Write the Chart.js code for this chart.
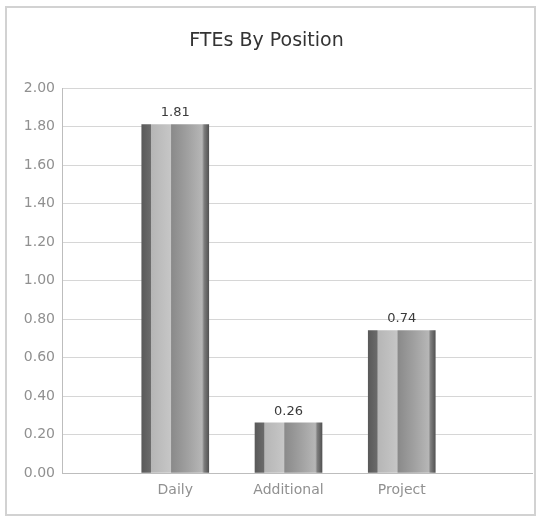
<!DOCTYPE html>
<html>
<head>
<meta charset="utf-8">
<script src="https://cdn.jsdelivr.net/npm/chart.js@4/dist/chart.umd.min.js"></script>
<style>
  html, body { margin: 0; padding: 0; background: #fff; }
  #wrap { width: 541px; height: 516px; }
</style>
</head>
<body>
<div id="wrap"><canvas id="myChart" width="541" height="516"></canvas></div>
<script>
// chart data
const categories = ['Daily', 'Additional', 'Project'];
const values = [1.81, 0.26, 0.74];
const yMin = 0;
const yMax = 2;
const yStep = 0.2;

const barWidth = 67;

// cylinder-like shading for each bar
function barGradient(context) {
    const chart = context.chart;
    if (!chart.chartArea || context.type !== 'data') return '#999';
    const cx = chart.scales.x.getPixelForValue(context.raw.x);
    const g = chart.ctx.createLinearGradient(cx - barWidth / 2, 0, cx + barWidth / 2, 0);
    g.addColorStop(0, '#5a5a5a');
    g.addColorStop(0.13, '#6a6a6a');
    g.addColorStop(0.145, '#b6b6b6');
    g.addColorStop(0.43, '#c6c6c6');
    g.addColorStop(0.445, '#8a8a8a');
    g.addColorStop(0.7, '#a2a2a2');
    g.addColorStop(0.9, '#b6b6b6');
    g.addColorStop(0.93, '#7e7e7e');
    g.addColorStop(1, '#545454');
    return g;
}

// frame around the whole chart
const framePlugin = {
    id: 'frame',
    beforeDraw(chart) {
        const c = chart.ctx;
        c.save();
        c.fillStyle = '#fff';
        c.fillRect(0, 0, chart.width, chart.height);
        c.strokeStyle = '#d2d2d2';
        c.lineWidth = 2;
        c.strokeRect(6, 7, 529, 508);
        c.restore();
    }
};

// value labels above bars
const valueLabels = {
    id: 'valueLabels',
    afterDatasetsDraw(chart) {
        const c = chart.ctx;
        const meta = chart.getDatasetMeta(0);
        c.save();
        c.font = '13px "DejaVu Sans"';
        c.fillStyle = '#3a3a3a';
        c.textAlign = 'center';
        c.textBaseline = 'bottom';
        meta.data.forEach((bar, i) => {
            c.fillText(values[i].toFixed(2), bar.x, bar.y - 5);
        });
        c.restore();
    }
};

const points = values.map((v, i) => ({ x: i + 1, y: v }));

new Chart(document.getElementById('myChart'), {
    type: 'bar',
    data: {
        datasets: [{
            data: points,
            backgroundColor: barGradient,
            borderWidth: 0,
            barThickness: barWidth
        }]
    },
    options: {
        responsive: false,
        animation: false,
        layout: { padding: { left: 0, right: 8, top: 0, bottom: 0 } },
        plugins: {
            legend: { display: false },
            tooltip: { enabled: false },
            title: {
                display: true,
                text: 'FTEs By Position',
                color: '#333',
                font: { family: 'DejaVu Sans', size: 19, weight: 'normal' },
                padding: { top: 30, bottom: 35.2 }
            }
        },
        scales: {
            x: {
                type: 'linear',
                offset: false,
                min: 0,
                max: 4.15,
                grid: { display: false, drawTicks: false, offset: false },
                border: { display: true, color: '#bdbdbd', width: 1 },
                ticks: {
                    stepSize: 1,
                    padding: 9,
                    color: '#909090',
                    font: { family: 'DejaVu Sans', size: 14 },
                    callback: v => categories[v - 1] || ''
                },
                afterFit: scale => { scale.height = 43; }
            },
            y: {
                min: yMin,
                max: yMax,
                grid: { color: '#d6d6d6', drawTicks: false },
                border: { display: true, color: '#bdbdbd', width: 1 },
                ticks: {
                    stepSize: yStep,
                    padding: 7,
                    color: '#909090',
                    font: { family: 'DejaVu Sans', size: 14 },
                    callback: v => v.toFixed(2)
                },
                afterFit: scale => { scale.width = 62; }
            }
        }
    },
    plugins: [framePlugin, valueLabels]
});
</script>
</body>
</html>
